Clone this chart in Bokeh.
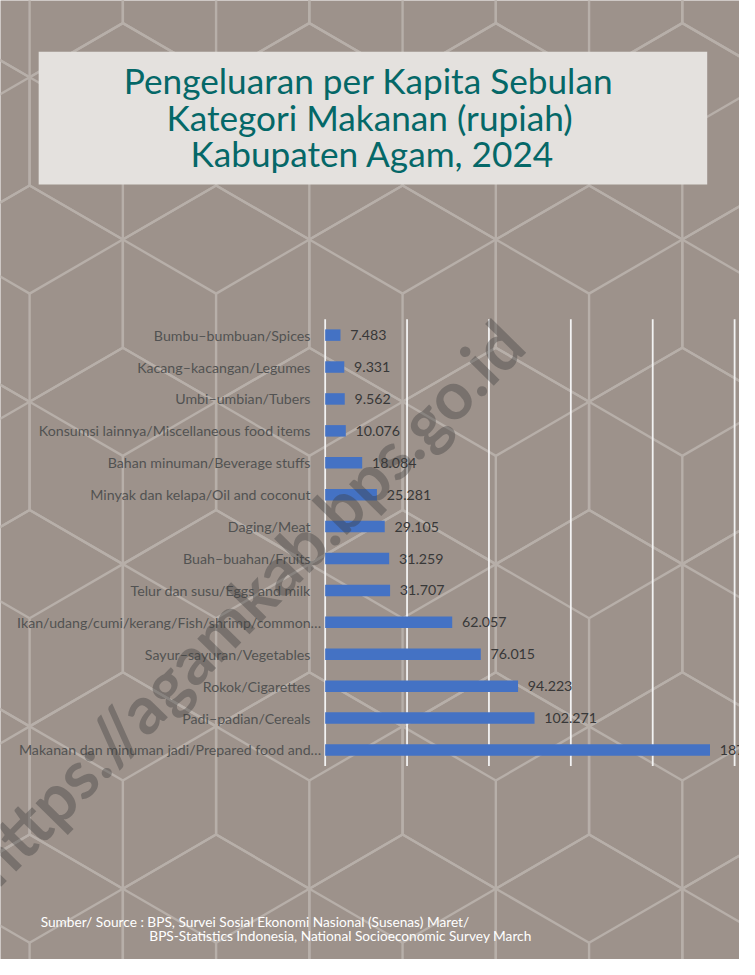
import math
from bokeh.plotting import figure
from bokeh.models import Range1d, ColumnDataSource
from bokeh.core.properties import value
from bokeh.embed import file_html
from bokeh.resources import INLINE

# ---------------- data ----------------
categories = [
    "Bumbu–bumbuan/Spices",
    "Kacang–kacangan/Legumes",
    "Umbi–umbian/Tubers",
    "Konsumsi lainnya/Miscellaneous food items",
    "Bahan minuman/Beverage stuffs",
    "Minyak dan kelapa/Oil and coconut",
    "Daging/Meat",
    "Buah–buahan/Fruits",
    "Telur dan susu/Eggs and milk",
    "Ikan/udang/cumi/kerang/Fish/shrimp/common…",
    "Sayur–sayuran/Vegetables",
    "Rokok/Cigarettes",
    "Padi–padian/Cereals",
    "Makanan dan minuman jadi/Prepared food and…",
]
values = [7.483, 9.331, 9.562, 10.076, 18.084, 25.281, 29.105,
          31.259, 31.707, 62.057, 76.015, 94.223, 102.271, 187.98]
x_ticks = [0, 40, 80, 120, 160, 200]

title_lines = ["Pengeluaran per Kapita Sebulan",
               "Kategori Makanan (rupiah)",
               "Kabupaten Agam, 2024"]
source_lines = ["Sumber/ Source : BPS, Survei Sosial Ekonomi Nasional (Susenas) Maret/",
                "BPS-Statistics Indonesia, National Socioeconomic Survey March"]
watermark = "https://agamkab.bps.go.id"

# ---------------- layout / style ----------------
REF_W, REF_H = 755, 975   # design space (reference pixels)
W, H = 739, 959           # figure size that fits inside the 8px page margin
K = W / REF_W             # font / offset scale
BG = "#9d928b"
HEX = "#b7afa9"
BAR = "#4472c4"
GRID = "#f2f2f2"

def px(v):
    return f"{v * K:.1f}px"

# chart area in design space
X0_PX, XMAX_PX, XMAX = 331.7, 750.0, 200.0
Y_FIRST_PX, Y_LAST_PX = 340.2, 762.0

sx = (XMAX_PX - X0_PX) / XMAX
step = (Y_LAST_PX - Y_FIRST_PX) / (len(categories) - 1)

p = figure(width=W, height=H, x_range=Range1d(0, REF_W), y_range=Range1d(REF_H, 0),
           output_backend="svg", toolbar_location=None, min_border=0,
           x_axis_location=None, y_axis_location=None,
           background_fill_color=BG, border_fill_color=BG,
           outline_line_color=None)
p.grid.visible = False

p.extra_x_ranges = {"val": Range1d(-X0_PX / sx, (REF_W - X0_PX) / sx)}
p.extra_y_ranges = {"cat": Range1d((REF_H - Y_FIRST_PX) / step, -Y_FIRST_PX / step)}

# ---------------- background honeycomb (decoration) ----------------
s_hex = 110.0
w_hex = s_hex * math.sqrt(3)
xs, ys = [], []
for j in range(-5, 3):
    cy = 793 + 1.5 * s_hex * j
    for i in range(-1, 5):
        cx = 125 + w_hex * i + (w_hex / 2) * (j % 2)
        verts = [(0, -s_hex), (w_hex / 2, -s_hex / 2), (w_hex / 2, s_hex / 2),
                 (0, s_hex), (-w_hex / 2, s_hex / 2), (-w_hex / 2, -s_hex / 2),
                 (0, -s_hex)]
        xs.append([cx + a for a, b in verts])
        ys.append([cy + b for a, b in verts])
        for a, b in [(-w_hex / 2, -s_hex / 2), (w_hex / 2, -s_hex / 2), (0, s_hex)]:
            xs.append([cx, cx + a])
            ys.append([cy, cy + b])
p.multi_line(xs=xs, ys=ys, line_color=HEX, line_width=2.4)

# ---------------- chart ----------------
idx = list(range(len(categories)))
src = ColumnDataSource(dict(
    y=idx, v=values, cat=categories,
    lab=[f"{v:.3f}" for v in values],
    off=[(-4 if c.endswith("…") else -15) * K for c in categories],
))

p.segment(x0=x_ticks, x1=x_ticks, y0=-0.5, y1=len(categories) - 0.5,
          line_color=GRID, line_width=1.8,
          x_range_name="val", y_range_name="cat")

p.hbar(y="y", left=0, right="v", height=0.36, source=src,
       fill_color=BAR, line_color=None,
       x_range_name="val", y_range_name="cat")

p.text(x=0, y="y", text="cat", x_offset="off", source=src,
       text_align="right", text_baseline="middle",
       text_font=value("Lato"), text_font_size=px(14.5), text_color="#525252",
       x_range_name="val", y_range_name="cat")

p.text(x="v", y="y", text="lab", x_offset=10 * K, source=src,
       text_align="left", text_baseline="middle",
       text_font=value("Lato"), text_font_size=px(14.5), text_color="#383838",
       x_range_name="val", y_range_name="cat")

# ---------------- title box ----------------
p.quad(left=39, right=722, top=52, bottom=187, fill_color="#e4e1de", line_color=None)
p.text(x=[376, 377, 380], y=[81, 118, 155], text=title_lines,
       text_align="center", text_baseline="middle",
       text_font=value("Lato"), text_font_size=px(36), text_color="#056868")

# ---------------- source ----------------
p.text(x=[41, 152], y=[936, 951], text=source_lines,
       text_align="left", text_baseline="middle",
       text_font=value("Lato"), text_font_size=px(14), text_color="#ffffff")

# ---------------- watermark ----------------
p.text(x=[250], y=[611], text=[watermark], angle=math.radians(45.5),
       text_align="center", text_baseline="middle",
       text_font=value("Lato"), text_font_style="bold",
       text_font_size=px(68), text_color="#3c3c3c", text_alpha=0.38)

open("out.html", "w").write(file_html(p, INLINE))
